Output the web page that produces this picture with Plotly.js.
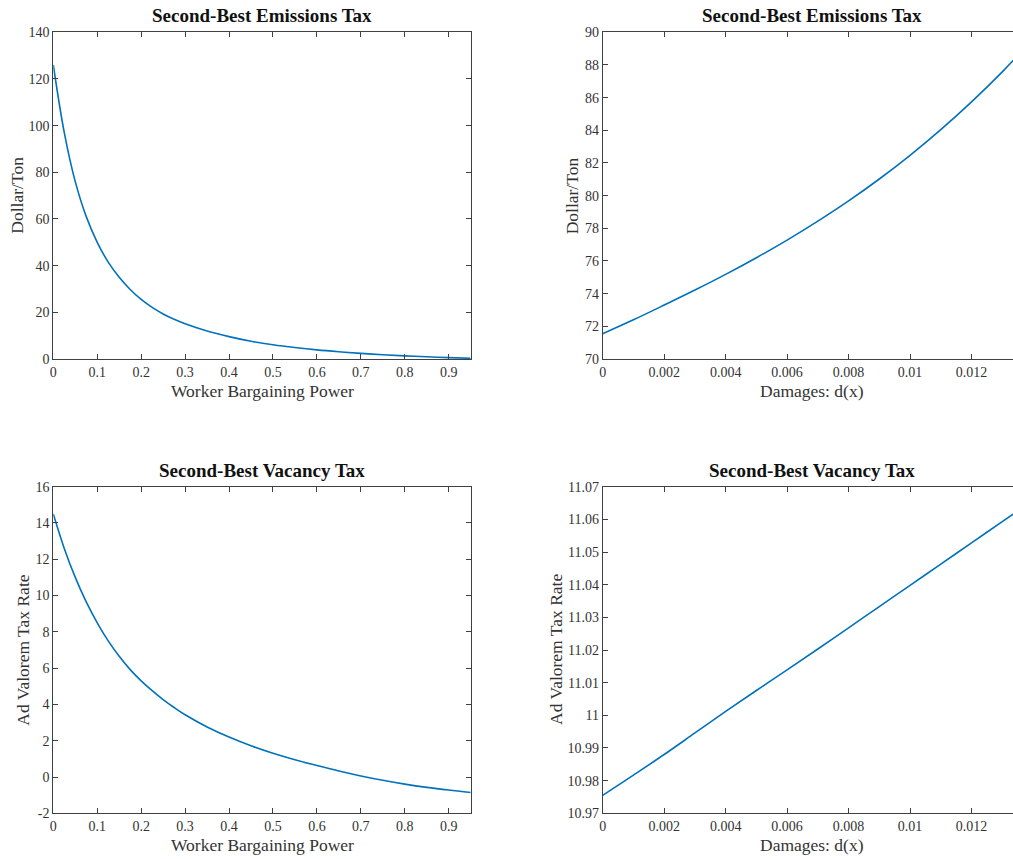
<!DOCTYPE html>
<html>
<head>
<meta charset="utf-8">
<script src="https://cdn.plot.ly/plotly-3.0.1.min.js"></script>
<style>
html,body{margin:0;padding:0;overflow:hidden;background:#fff;}
#chart{width:1021px;height:859px;}
</style>
</head>
<body>
<div id="chart"></div>
<script>
// ---- data ----
const bargainX = [0, 0.025, 0.05, 0.075, 0.1, 0.125, 0.15, 0.175, 0.2, 0.225, 0.25, 0.275, 0.3, 0.35, 0.4, 0.45, 0.5, 0.55, 0.6, 0.65, 0.7, 0.75, 0.8, 0.85, 0.9, 0.95];
const emissionsByBargain = [126, 97, 76, 61, 50, 41.5, 35, 29.8, 25.5, 22.1, 19.3, 17.0, 15.1, 12.0, 9.6, 7.6, 6.1, 4.9, 3.9, 3.1, 2.4, 1.85, 1.35, 0.95, 0.6, 0.3];
const vacancyByBargain = [14.5, 12.6, 11.0, 9.65, 8.5, 7.5, 6.65, 5.92, 5.3, 4.76, 4.27, 3.83, 3.43, 2.76, 2.2, 1.72, 1.31, 0.95, 0.63, 0.33, 0.06, -0.18, -0.39, -0.57, -0.72, -0.85];

const damagesX = [0, 0.001, 0.002, 0.003, 0.004, 0.005, 0.006, 0.007, 0.008, 0.009, 0.01, 0.011, 0.012, 0.013, 0.014];
const emissionsByDamage = [71.55, 72.4, 73.3, 74.22, 75.18, 76.2, 77.28, 78.44, 79.68, 81.02, 82.47, 84.04, 85.74, 87.58, 89.58];
const vacancyByDamage = [10.9755, 10.9817, 10.988, 10.9946, 11.0012, 11.0076, 11.0139, 11.0203, 11.0268, 11.0333, 11.0398, 11.0463, 11.0528, 11.0593, 11.0658];

// tick labels
const bargainTicks = [0, 0.1, 0.2, 0.3, 0.4, 0.5, 0.6, 0.7, 0.8, 0.9];
const bargainTickText = ["0", "0.1", "0.2", "0.3", "0.4", "0.5", "0.6", "0.7", "0.8", "0.9"];
const damageTicks = [0, 0.002, 0.004, 0.006, 0.008, 0.01, 0.012];
const damageTickText = ["0", "0.002", "0.004", "0.006", "0.008", "0.01", "0.012"];
const dollarTicks1 = [0, 20, 40, 60, 80, 100, 120, 140];
const dollarTicks2 = [70, 72, 74, 76, 78, 80, 82, 84, 86, 88, 90];
const vacancyTicks1 = [-2, 0, 2, 4, 6, 8, 10, 12, 14, 16];
const vacancyTickText1 = ["-2", "0", "2", "4", "6", "8", "10", "12", "14", "16"];
const vacancyTicks2 = [10.97, 10.98, 10.99, 11, 11.01, 11.02, 11.03, 11.04, 11.05, 11.06, 11.07];
const vacancyTickText2 = ["10.97", "10.98", "10.99", "11", "11.01", "11.02", "11.03", "11.04", "11.05", "11.06", "11.07"];

const titles = ["Second-Best Emissions Tax", "Second-Best Emissions Tax", "Second-Best Vacancy Tax", "Second-Best Vacancy Tax"];
const xTitles = ["Worker Bargaining Power", "Damages: d(x)", "Worker Bargaining Power", "Damages: d(x)"];
const yTitles = ["Dollar/Ton", "Dollar/Ton", "Ad Valorem Tax Rate", "Ad Valorem Tax Rate"];

// ---- layout geometry (pixels) ----
const W = 1021, H = 859;
const fx = p => p / W;
const fy = p => 1 - p / H;
const LINE = '#0072BD';
const AX = '#404040';
const FONT = 'Liberation Serif, Times New Roman, serif';

function line(x, y, xa, ya) {
  return {x: x, y: y, xaxis: xa, yaxis: ya, type: 'scatter', mode: 'lines',
    line: {color: LINE, width: 1.6, shape: 'spline', smoothing: 1}, hoverinfo: 'skip', showlegend: false};
}

const data = [
  line(bargainX, emissionsByBargain, 'x', 'y'),
  line(damagesX, emissionsByDamage, 'x2', 'y2'),
  line(bargainX, vacancyByBargain, 'x3', 'y3'),
  line(damagesX, vacancyByDamage, 'x4', 'y4')
];

function axis(domain, range, vals, text, anchor) {
  return {domain: domain, range: range, anchor: anchor, tickmode: 'array', tickvals: vals, ticktext: text,
    ticks: 'inside', ticklen: 5, tickwidth: 1, tickcolor: AX, showline: true, linecolor: AX, linewidth: 1,
    mirror: 'ticks', showgrid: false, zeroline: false, fixedrange: true,
    tickfont: {family: FONT, size: 14, color: '#333'}};
}

const L = [53.3, 470.7], R = [602.7, 1020.7];
const T = [32.3, 359], B = [486.7, 813.3];

const layout = {
  width: W, height: H,
  margin: {l: 0, r: 0, t: 0, b: 0},
  paper_bgcolor: '#fff', plot_bgcolor: '#fff',
  showlegend: false,
  xaxis: axis([fx(L[0]), fx(L[1])], [0, 0.95], bargainTicks, bargainTickText, 'y'),
  yaxis: axis([fy(T[1]), fy(T[0])], [0, 140], dollarTicks1, dollarTicks1.map(String), 'x'),
  xaxis2: axis([fx(R[0]), fx(R[1])], [0, 0.0136], damageTicks, damageTickText, 'y2'),
  yaxis2: axis([fy(T[1]), fy(T[0])], [70, 90], dollarTicks2, dollarTicks2.map(String), 'x2'),
  xaxis3: axis([fx(L[0]), fx(L[1])], [0, 0.95], bargainTicks, bargainTickText, 'y3'),
  yaxis3: axis([fy(B[1]), fy(B[0])], [-2, 16], vacancyTicks1, vacancyTickText1, 'x3'),
  xaxis4: axis([fx(R[0]), fx(R[1])], [0, 0.0136], damageTicks, damageTickText, 'y4'),
  yaxis4: axis([fy(B[1]), fy(B[0])], [10.97, 11.07], vacancyTicks2, vacancyTickText2, 'x4'),
  annotations: []
};

const cols = [L, R, L, R], rows = [T, T, B, B];
const titleY = [16, 16, 470.7, 470.7];
const xTitleY = [390.5, 390.5, 845, 845];
const yTitleX = [17, 571.7, 22.7, 556];
for (let i = 0; i < 4; i++) {
  const cx = (cols[i][0] + cols[i][1]) / 2;
  const cy = (rows[i][0] + rows[i][1]) / 2;
  layout.annotations.push({text: '<b>' + titles[i] + '</b>', xref: 'paper', yref: 'paper', x: fx(cx), y: fy(titleY[i]),
    xanchor: 'center', yanchor: 'middle', showarrow: false, font: {family: FONT, size: 19, color: '#111'}});
  layout.annotations.push({text: xTitles[i], xref: 'paper', yref: 'paper', x: fx(cx), y: fy(xTitleY[i]),
    xanchor: 'center', yanchor: 'middle', showarrow: false, font: {family: FONT, size: 17.5, color: '#333'}});
  layout.annotations.push({text: yTitles[i], xref: 'paper', yref: 'paper', x: fx(yTitleX[i]), y: fy(cy),
    xanchor: 'center', yanchor: 'middle', textangle: -90, showarrow: false, font: {family: FONT, size: 17.5, color: '#333'}});
}

Plotly.newPlot('chart', data, layout, {staticPlot: true, displayModeBar: false});
</script>
</body>
</html>
